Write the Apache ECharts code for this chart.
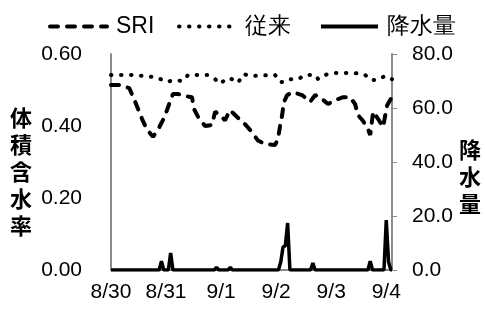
<!DOCTYPE html>
<html>
<head>
<meta charset="utf-8">
<script src="https://cdn.jsdelivr.net/npm/echarts@6/dist/echarts.min.js"></script>
<style>
  html,body{margin:0;padding:0;background:#fff;}
  #main{width:485px;height:310px;}
</style>
</head>
<body>
<div id="main"></div>
<script>
// x軸は 8/30 0:00 からの経過時間(h)
var dayLabels = ['8/30', '8/31', '9/1', '9/2', '9/3', '9/4'];

// SRI
var sriHours = [0, 4, 8, 11, 13.5, 15.7, 18.3, 20.5, 22.7, 24.4, 25.7, 27, 29.2, 32.3, 35.3, 36.2, 38, 41, 44, 45.4, 47.5, 49.7, 51.9, 55, 58.4, 61.5, 64, 67, 71.5, 72.8, 73.7, 74.6, 75.4, 76.8, 79.4, 83.3, 86.8, 89, 92, 94.6, 97.7, 101.2, 104.2, 106.4, 107.7, 109.9, 112.1, 113, 114.3, 116.4, 118.6, 120.4, 121.7, 122.5];
var sriValues = [0.514, 0.514, 0.505, 0.46, 0.42, 0.39, 0.37, 0.39, 0.417, 0.444, 0.467, 0.489, 0.489, 0.483, 0.48, 0.447, 0.425, 0.40, 0.403, 0.44, 0.43, 0.416, 0.444, 0.425, 0.405, 0.383, 0.36, 0.35, 0.347, 0.364, 0.40, 0.43, 0.467, 0.486, 0.494, 0.486, 0.467, 0.486, 0.475, 0.461, 0.472, 0.48, 0.48, 0.461, 0.43, 0.414, 0.39, 0.375, 0.44, 0.42, 0.397, 0.458, 0.472, 0.48];

// 従来
var oldHours = [0, 10, 20, 24.4, 27, 31.4, 33.6, 42, 45.4, 47.5, 50.6, 52.8, 55.4, 57.6, 61.5, 71.5, 73.7, 75.9, 78, 81.6, 84.6, 89, 90.3, 94.2, 97.7, 106.4, 110.8, 113, 116, 119.5, 122.5];
var oldValues = [0.542, 0.542, 0.535, 0.522, 0.527, 0.525, 0.542, 0.542, 0.53, 0.517, 0.533, 0.53, 0.52, 0.544, 0.539, 0.542, 0.522, 0.522, 0.53, 0.53, 0.542, 0.542, 0.53, 0.544, 0.547, 0.547, 0.542, 0.528, 0.528, 0.539, 0.53];

// 降水量
var rainHours = [0, 21, 22, 23, 25, 26, 27, 45, 46, 47, 51, 52, 53, 73, 74, 75, 76, 77, 78, 87, 88, 89, 112, 113, 114, 119, 120, 121, 122, 122.5];
var rainValues = [0, 0, 3.3, 0, 0, 6.3, 0, 0, 1, 0, 0, 1, 0, 0, 3, 8.5, 9, 17.4, 0, 0, 2.6, 0, 0, 3.3, 0, 0, 18.5, 3, 0, 0];

var font = 'Liberation Sans';
var cjk = 'Noto Sans CJK JP';

function pairs(xs, ys){
  var out = [];
  for(var i = 0; i < xs.length; i++) out.push([xs[i], ys[i]]);
  return out;
}
// 凡例は1項目ずつ置く
function legendAt(name, left){
  return {
    top: 10, left: left, itemWidth: 57, itemHeight: 24,
    itemStyle: { opacity: 0 }, lineStyle: { width: 4 },
    textStyle: { fontFamily: font, fontSize: 23, color: '#000', padding: [0, 0, 0, 4] },
    data: [name]
  };
}

var option = {
  animation: false,
  backgroundColor: '#fff',
  textStyle: { fontFamily: font, color: '#000' },
  legend: [legendAt('SRI', 43), legendAt('従来', 172), legendAt('降水量', 314)],
  grid: { left: 111, right: 93, top: 54, bottom: 40 },
  xAxis: {
    type: 'value', min: 0, max: 122.5, interval: 24,
    axisLine: { show: true, lineStyle: { color: '#8c8c8c', width: 2 } },
    axisTick: { show: false },
    splitLine: { show: false },
    axisLabel: {
      margin: 12, fontSize: 21, fontFamily: font, color: '#000',
      showMaxLabel: false,
      formatter: function(v){ if(v % 24 !== 0) return ''; return dayLabels[v / 24] || ''; }
    }
  },
  yAxis: [
    {
      type: 'value', min: 0, max: 0.6, interval: 0.2,
      axisLine: { show: true, lineStyle: { color: '#8c8c8c', width: 2 } },
      axisTick: { show: false },
      splitLine: { show: false },
      axisLabel: { margin: 29, fontSize: 21, fontFamily: font, color: '#000', formatter: function(v){ return v.toFixed(2); } }
    },
    {
      type: 'value', min: 0, max: 80, interval: 20, position: 'right',
      axisLine: { show: true, lineStyle: { color: '#8c8c8c', width: 2 } },
      axisTick: { show: true, length: 5, lineStyle: { color: '#8c8c8c', width: 1 } },
      splitLine: { show: false },
      axisLabel: { margin: 20, fontSize: 21, fontFamily: font, color: '#000', formatter: function(v){ return v.toFixed(1); } }
    }
  ],
  graphic: [
    { type: 'text', left: 10, top: 104, style: { text: '体\n積\n含\n水\n率', font: 'bold 22px "' + cjk + '"', lineHeight: 27, fill: '#000' } },
    { type: 'text', left: 459, top: 136, style: { text: '降\n水\n量', font: 'bold 22px "' + cjk + '"', lineHeight: 27, fill: '#000' } }
  ],
  series: [
    { name: 'SRI', type: 'line', symbol: 'none', data: pairs(sriHours, sriValues),
      lineStyle: { color: '#000', width: 4, type: [8, 9], cap: 'round' }, itemStyle: { color: '#000' } },
    { name: '従来', type: 'line', symbol: 'none', data: pairs(oldHours, oldValues),
      lineStyle: { color: '#000', width: 4, type: [0.5, 9.5], cap: 'round' }, itemStyle: { color: '#000' } },
    { name: '降水量', type: 'line', yAxisIndex: 1, symbol: 'none', data: pairs(rainHours, rainValues),
      lineStyle: { color: '#000', width: 3.5 }, itemStyle: { color: '#000' } }
  ]
};
echarts.init(document.getElementById('main')).setOption(option);
</script>
</body>
</html>
